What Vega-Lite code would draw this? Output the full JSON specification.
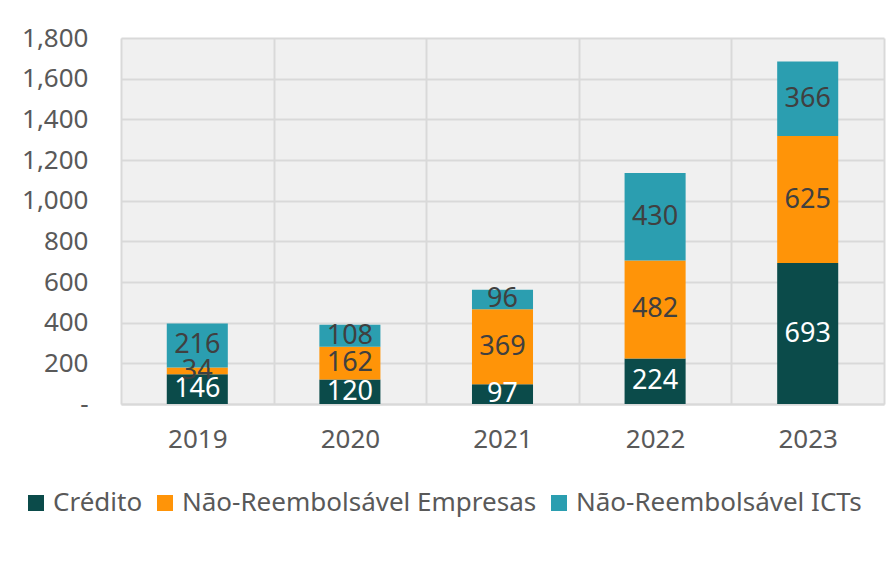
{
  "$schema": "https://vega.github.io/schema/vega-lite/v6.json",
  "autosize": {"type": "none"},
  "padding": {"left": 121, "top": 38, "right": 11, "bottom": 158},
  "width": 763,
  "height": 366,
  "background": "white",
  "config": {
    "font": "Noto Sans",
    "view": {"fill": "#f0f0f0", "stroke": null}
  },
  "data": {
    "values": [
      {"ano": "2019", "tipo": "Crédito", "ordem": 1, "valor": 146},
      {"ano": "2019", "tipo": "Não-Reembolsável Empresas", "ordem": 2, "valor": 34},
      {"ano": "2019", "tipo": "Não-Reembolsável ICTs", "ordem": 3, "valor": 216},
      {"ano": "2020", "tipo": "Crédito", "ordem": 1, "valor": 120},
      {"ano": "2020", "tipo": "Não-Reembolsável Empresas", "ordem": 2, "valor": 162},
      {"ano": "2020", "tipo": "Não-Reembolsável ICTs", "ordem": 3, "valor": 108},
      {"ano": "2021", "tipo": "Crédito", "ordem": 1, "valor": 97},
      {"ano": "2021", "tipo": "Não-Reembolsável Empresas", "ordem": 2, "valor": 369},
      {"ano": "2021", "tipo": "Não-Reembolsável ICTs", "ordem": 3, "valor": 96},
      {"ano": "2022", "tipo": "Crédito", "ordem": 1, "valor": 224},
      {"ano": "2022", "tipo": "Não-Reembolsável Empresas", "ordem": 2, "valor": 482},
      {"ano": "2022", "tipo": "Não-Reembolsável ICTs", "ordem": 3, "valor": 430},
      {"ano": "2023", "tipo": "Crédito", "ordem": 1, "valor": 693},
      {"ano": "2023", "tipo": "Não-Reembolsável Empresas", "ordem": 2, "valor": 625},
      {"ano": "2023", "tipo": "Não-Reembolsável ICTs", "ordem": 3, "valor": 366}
    ]
  },
  "encoding": {
    "x": {
      "field": "ano", "type": "nominal", "title": null,
      "scale": {"paddingInner": 0, "paddingOuter": 0},
      "axis": {
        "labelAngle": 0, "labelFontSize": 26, "labelColor": "#595959",
        "labelPadding": 22, "ticks": false, "domain": true, "domainColor": "#d9d9d9", "domainWidth": 2,
        "grid": true, "gridColor": "#d9d9d9", "gridWidth": 2, "tickBand": "extent"
      }
    },
    "y": {
      "field": "valor", "type": "quantitative", "stack": "zero", "title": null,
      "scale": {"domain": [0, 1800], "nice": false},
      "axis": {
        "values": [0, 200, 400, 600, 800, 1000, 1200, 1400, 1600, 1800],
        "labelExpr": "datum.value === 0 ? '-\u00a0\u00a0\u00a0\u00a0' : format(datum.value, ',')",
        "labelFontSize": 26, "labelColor": "#595959", "labelPadding": 33,
        "ticks": false, "domain": false,
        "grid": true, "gridColor": "#d9d9d9", "gridWidth": 2
      }
    },
    "order": {"field": "ordem", "type": "quantitative"}
  },
  "layer": [
    {
      "mark": {"type": "bar", "width": {"band": 0.4}},
      "encoding": {
        "color": {
          "field": "tipo", "type": "nominal", "title": null,
          "scale": {
            "domain": ["Crédito", "Não-Reembolsável Empresas", "Não-Reembolsável ICTs"],
            "range": ["#0b4b4a", "#ff9408", "#2b9eb0"]
          },
          "legend": {
            "orient": "none", "direction": "horizontal", "legendX": -98, "legendY": 452,
            "symbolType": "square", "symbolSize": 256, "symbolStrokeWidth": 0,
            "labelFontSize": 26, "labelColor": "#595959", "columnPadding": 9, "labelOffset": 4,
            "labelLimit": 500
          }
        }
      }
    },
    {
      "mark": {"type": "text", "fontSize": 27, "baseline": "middle", "clip": true},
      "encoding": {
        "y": {"field": "valor", "type": "quantitative", "stack": "zero", "bandPosition": 0.5},
        "text": {"field": "valor", "type": "quantitative"},
        "color": {
          "condition": {"test": "datum.tipo === 'Crédito'", "value": "white"},
          "value": "#404040"
        }
      }
    }
  ]
}
